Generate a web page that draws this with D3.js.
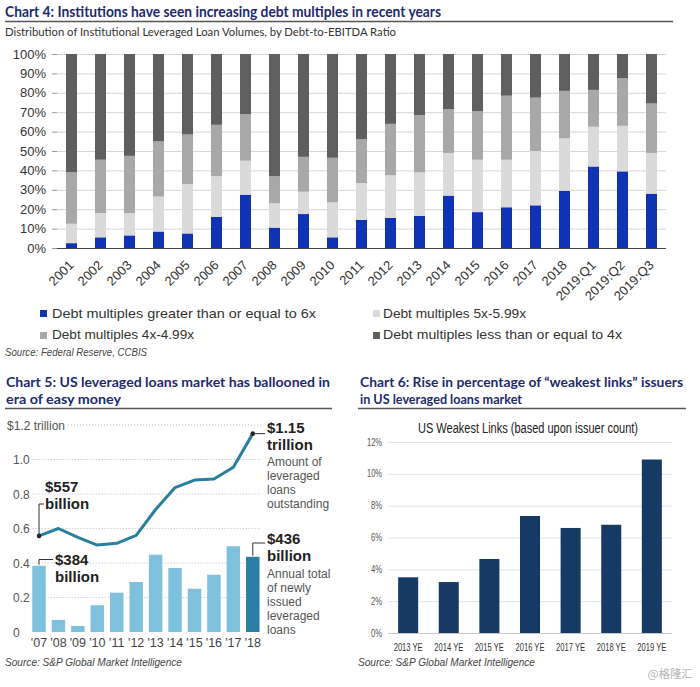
<!DOCTYPE html>
<html><head><meta charset="utf-8">
<script src="https://cdn.jsdelivr.net/npm/d3@7/dist/d3.min.js"></script>
<style>body{margin:0;background:#fff}svg{display:block}</style>
</head><body>
<svg id="c" width="700" height="687"></svg>
<script>
// ---------- Chart 4 data ----------
const periods = ["2001","2002","2003","2004","2005","2006","2007","2008","2009","2010","2011","2012","2013","2014","2015","2016","2017","2018","2019:Q1","2019:Q2","2019:Q3"];
const ge6   = [2.5,5.5,6.5,8.5,7.5,16,27.5,10.5,17.5,5.5,14.5,15.5,16.5,27,18.5,21,22,29.5,42,39.5,28];
const m5to6 = [10,12.5,11.5,18,25.5,21,17.5,12.5,11.5,18,19,22,22.5,22,27,24.5,28,27,20.5,23.5,21];
const m4to5 = [26.5,27.5,29.5,28.5,25.5,26.5,24,14,18,23,22.5,26.5,29.5,22.5,25,33,27.5,24.5,19,24.5,25.5];
const le4   = [61,54.5,52.5,45,41.5,36.5,31,63,53,53.5,44,36,31.5,28.5,29.5,21.5,22.5,19,18.5,12.5,25.5];
const seriesNames = ["Debt multiples greater than or equal to 6x","Debt multiples 5x-5.99x","Debt multiples 4x-4.99x","Debt multiples less than or equal to 4x"];
const pctTicks = [0,10,20,30,40,50,60,70,80,90,100];

// ---------- Chart 5 data ----------
const years5 = ["'07","'08","'09","'10","'11","'12","'13","'14","'15","'16","'17","'18"];
const newIssued = [0.384,0.07,0.035,0.155,0.228,0.29,0.448,0.371,0.251,0.332,0.497,0.436];
const outstanding = [0.557,0.60,0.549,0.504,0.514,0.56,0.71,0.837,0.881,0.887,0.955,1.15];
const ticks5 = [0.2,0.4,0.6,0.8,1.0,1.2];
const tickLabels5 = ["0.2","0.4","0.6","0.8","1.0","$1.2 trillion"];

// ---------- Chart 6 data ----------
const cats6 = ["2013 YE","2014 YE","2015 YE","2016 YE","2017 YE","2018 YE","2019 YE"];
const weakest = [3.5,3.2,4.65,7.35,6.6,6.8,10.9];
const ticks6 = [0,2,4,6,8,10,12];

const svg = d3.select("#c");
const NAVY = "#1e2a6e";
const SANS = "'Liberation Sans', Arial, sans-serif";
const HEAD = "Lato, 'Liberation Sans', sans-serif";

function txt(g, x, y, s, o = {}) {
  const t = g.append("text").attr("x", x).attr("y", y).text(s)
    .attr("font-family", o.family || SANS)
    .attr("font-size", o.size || 12)
    .attr("font-weight", o.weight || "normal")
    .attr("font-style", o.style || "normal")
    .attr("fill", o.fill || "#333")
    .attr("text-anchor", o.anchor || "start");
  if (o.len) t.attr("textLength", o.len).attr("lengthAdjust", "spacingAndGlyphs");
  return t;
}

// ================= CHART 4 =================
const g4 = svg.append("g");
txt(g4, 5, 17, "Chart 4: Institutions have seen increasing debt multiples in recent years", {family: HEAD, size: 14.5, weight: "bold", fill: NAVY, len: 436});
g4.append("line").attr("x1", 5).attr("x2", 673).attr("y1", 21.5).attr("y2", 21.5).attr("stroke", "#555").attr("stroke-width", 1.3);
txt(g4, 5, 36, "Distribution of Institutional Leveraged Loan Volumes, by Debt-to-EBITDA Ratio", {family: HEAD, size: 11, fill: "#333", len: 391});

const x4 = d3.scaleBand().domain(periods).range([57, 666]).paddingInner(0.62).paddingOuter(0.31);
const y4 = d3.scaleLinear().domain([0, 100]).range([248, 54]);

// gridlines
g4.append("g").selectAll("line").data(pctTicks.slice(1)).join("line")
  .attr("x1", 57).attr("x2", 666).attr("y1", d => y4(d) + 0.5).attr("y2", d => y4(d) + 0.5)
  .attr("stroke", "#d6d6d6").attr("stroke-width", 1);

// y axis
const ya4 = g4.append("g").attr("transform", "translate(57,0)")
  .call(d3.axisLeft(y4).tickValues(pctTicks).tickFormat(d => d + "%").tickSize(5).tickPadding(6));
ya4.select(".domain").remove();
ya4.selectAll(".tick line").attr("stroke", "#999");
ya4.selectAll(".tick text").attr("font-family", SANS).attr("font-size", 13).attr("fill", "#333");

// stacked bars
const rows = periods.map((p, i) => ({p, a: ge6[i], b: m5to6[i], c: m4to5[i], d: le4[i]}));
const stack = d3.stack().keys(["a", "b", "c", "d"])(rows);
const cols4 = ["#1033b4", "#dadada", "#a8a8a8", "#5f5f5f"];
g4.append("g").selectAll("g").data(stack).join("g").attr("fill", (d, i) => cols4[i])
  .selectAll("rect").data(d => d).join("rect")
  .attr("x", d => x4(d.data.p)).attr("width", x4.bandwidth())
  .attr("y", d => y4(d[1])).attr("height", d => y4(d[0]) - y4(d[1]));

// x axis
g4.append("line").attr("x1", 57).attr("x2", 666).attr("y1", 248.5).attr("y2", 248.5).attr("stroke", "#444").attr("stroke-width", 1.2);
g4.append("g").selectAll("text").data(periods).join("text")
  .attr("transform", d => `translate(${x4(d) + x4.bandwidth() / 2 + 3},266) rotate(-45)`)
  .attr("text-anchor", "end").attr("font-family", SANS).attr("font-size", 13).attr("fill", "#333")
  .text(d => d);

// legend
const legPos = [[40, 310, 52, 318, 264], [373, 310, 383, 318, 143], [40, 332, 52, 339, 142], [373, 332, 383, 339, 239]];
seriesNames.forEach((n, i) => {
  const [sx, sy, tx, ty, len] = legPos[i];
  g4.append("rect").attr("x", sx).attr("y", sy).attr("width", 7).attr("height", 7).attr("fill", cols4[i]);
  txt(g4, tx, ty, n, {size: 13.5, fill: "#333", len: len});
});
txt(g4, 5, 356, "Source: Federal Reserve, CCBIS", {size: 10.5, style: "italic", fill: "#444", len: 142});

// ================= CHART 5 =================
const g5 = svg.append("g");
txt(g5, 6, 386.5, "Chart 5: US leveraged loans market has ballooned in", {family: HEAD, size: 13.5, weight: "bold", fill: NAVY, len: 324});
txt(g5, 6, 403.5, "era of easy money", {family: HEAD, size: 13.5, weight: "bold", fill: NAVY, len: 115});
g5.append("line").attr("x1", 5).attr("x2", 332).attr("y1", 408.5).attr("y2", 408.5).attr("stroke", "#555").attr("stroke-width", 1.3);

const x5 = d3.scaleBand().domain(years5).range([29.3, 262.5]).paddingInner(0.306).paddingOuter(0.153);
const y5 = d3.scaleLinear().domain([0, 1.2]).range([632, 425]);

// y labels + dotted gridlines
ticks5.forEach((t, i) => {
  const lx = i === ticks5.length - 1 ? 7 : 13;
  const lab = txt(g5, lx, y5(t) + 4.5, tickLabels5[i], {size: 12, fill: "#555"});
  const w = lab.node().getComputedTextLength();
  g5.append("line").attr("x1", lx + w + 3).attr("x2", 261).attr("y1", y5(t)).attr("y2", y5(t))
    .attr("stroke", "#bdbdbd").attr("stroke-width", 1).attr("stroke-dasharray", "1,2");
});
txt(g5, 13, y5(0) + 4.5, "0", {size: 12, fill: "#555"});

// bars
g5.append("g").selectAll("rect").data(newIssued).join("rect")
  .attr("x", (d, i) => x5(years5[i])).attr("width", x5.bandwidth())
  .attr("y", d => y5(d)).attr("height", d => y5(0) - y5(d))
  .attr("fill", (d, i) => i === years5.length - 1 ? "#2a7ea1" : "#7fc0dd");

// line
const cx5 = i => x5(years5[i]) + x5.bandwidth() / 2;
g5.append("path").datum(outstanding)
  .attr("d", d3.line().x((d, i) => cx5(i)).y(d => y5(d)))
  .attr("fill", "none").attr("stroke", "#2a7f9d").attr("stroke-width", 3).attr("stroke-linejoin", "round");

// x labels
g5.append("g").selectAll("text").data(years5).join("text")
  .attr("x", (d, i) => cx5(i)).attr("y", 647).attr("text-anchor", "middle")
  .attr("font-family", SANS).attr("font-size", 12.5).attr("fill", "#444").text(d => d);

// annotations
const first = 0, last = years5.length - 1;
const ann = g5.append("g");
ann.append("circle").attr("cx", cx5(first)).attr("cy", y5(outstanding[first])).attr("r", 2.3).attr("fill", "#222");
ann.append("path").attr("d", `M${cx5(first)},${y5(outstanding[first])} V504 H44`).attr("fill", "none").attr("stroke", "#333").attr("stroke-width", 1);
txt(ann, 45, 492, "$557", {size: 15, weight: "bold", fill: "#222"});
txt(ann, 45, 509, "billion", {size: 15, weight: "bold", fill: "#222"});
ann.append("path").attr("d", `M${cx5(first)},${y5(newIssued[first]) - 1} V559.5 H53`).attr("fill", "none").attr("stroke", "#333").attr("stroke-width", 1);
txt(ann, 55, 565, "$384", {size: 15, weight: "bold", fill: "#222"});
txt(ann, 55, 582, "billion", {size: 15, weight: "bold", fill: "#222"});
ann.append("circle").attr("cx", cx5(last)).attr("cy", y5(outstanding[last])).attr("r", 2.3).attr("fill", "#222");
ann.append("path").attr("d", `M${cx5(last)},${y5(outstanding[last])} H265`).attr("fill", "none").attr("stroke", "#333").attr("stroke-width", 1);
txt(ann, 267, 433, "$1.15", {size: 15, weight: "bold", fill: "#222"});
txt(ann, 267, 450, "trillion", {size: 15, weight: "bold", fill: "#222"});
["Amount of", "leveraged", "loans", "outstanding"].forEach((s, i) => txt(ann, 267, 466 + i * 14, s, {size: 12, fill: "#555"}));
ann.append("path").attr("d", `M${cx5(last)},${y5(newIssued[last]) - 1} V543 H265`).attr("fill", "none").attr("stroke", "#333").attr("stroke-width", 1);
txt(ann, 267, 544, "$436", {size: 15, weight: "bold", fill: "#222"});
txt(ann, 267, 561, "billion", {size: 15, weight: "bold", fill: "#222"});
["Annual total", "of newly", "issued", "leveraged", "loans"].forEach((s, i) => txt(ann, 267, 578 + i * 14, s, {size: 12, fill: "#555"}));

txt(g5, 5, 666, "Source: S&P Global Market Intelligence", {size: 10.5, style: "italic", fill: "#444", len: 177});

// ================= CHART 6 =================
const g6 = svg.append("g");
txt(g6, 360, 386.5, "Chart 6: Rise in percentage of \u201cweakest links\u201d issuers", {family: HEAD, size: 13.5, weight: "bold", fill: NAVY, len: 323});
txt(g6, 360, 403.5, "in US leveraged loans market", {family: HEAD, size: 13.5, weight: "bold", fill: NAVY, len: 162});
g6.append("line").attr("x1", 358).attr("x2", 686).attr("y1", 408.5).attr("y2", 408.5).attr("stroke", "#555").attr("stroke-width", 1.3);

txt(g6, 528, 433, "US Weakest Links (based upon issuer count)", {size: 14, fill: "#222", anchor: "middle", len: 220});

const x6 = d3.scaleBand().domain(cats6).range([388, 672]).paddingInner(0.507).paddingOuter(0.25);
const y6 = d3.scaleLinear().domain([0, 12]).range([633, 442]);

g6.append("g").selectAll("line").data(ticks6).join("line")
  .attr("x1", 388).attr("x2", 672).attr("y1", d => y6(d) + 0.5).attr("y2", d => y6(d) + 0.5)
  .attr("stroke", d => d === 0 ? "#c8c8c8" : "#e3e3e3").attr("stroke-width", 1);
ticks6.forEach(t => txt(g6, 382, y6(t) + 3.5, t + "%", {size: 10, fill: "#555", anchor: "end", len: t >= 10 ? 15 : 11}));

g6.append("g").selectAll("rect").data(weakest).join("rect")
  .attr("x", (d, i) => x6(cats6[i])).attr("width", x6.bandwidth())
  .attr("y", d => y6(d)).attr("height", d => y6(0) - y6(d)).attr("fill", "#163a63");

cats6.forEach(c => txt(g6, x6(c) + x6.bandwidth() / 2, 651, c, {size: 11, fill: "#333", anchor: "middle", len: 29}));

txt(g6, 358, 666, "Source: S&P Global Market Intelligence", {size: 10.5, style: "italic", fill: "#444", len: 177});
txt(g6, 693, 678, "@格隆汇", {family: "'Noto Sans CJK SC', sans-serif", size: 11.5, fill: "#b5b5b5", anchor: "end"});
</script>
</body></html>
